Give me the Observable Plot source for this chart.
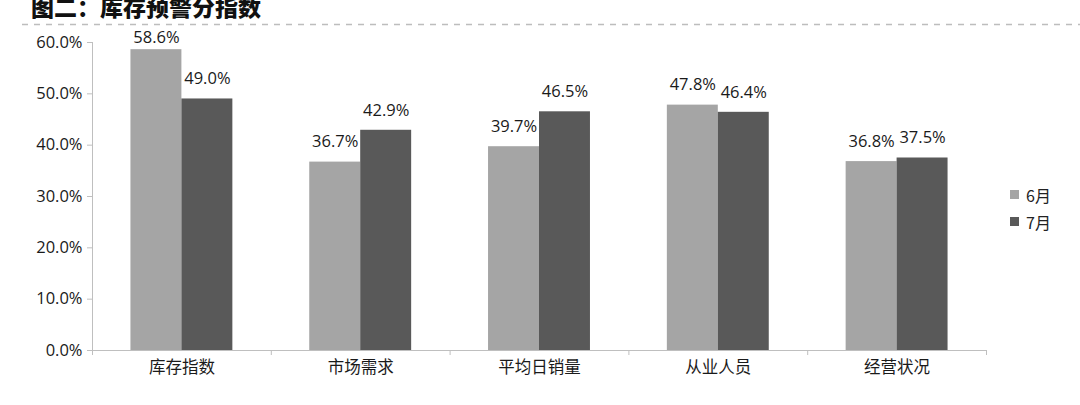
<!DOCTYPE html>
<html><head><meta charset="utf-8">
<script src="https://cdn.jsdelivr.net/npm/d3@7"></script>
<script src="https://cdn.jsdelivr.net/npm/@observablehq/plot@0.6"></script>
<style>
body{margin:0;background:#fff;}
#wrap{position:relative;width:1080px;height:405px;overflow:hidden;font-family:"Open Sans","Noto Sans CJK SC",sans-serif;}
#title{position:absolute;left:31px;top:-11px;font-family:"Noto Sans CJK SC",sans-serif;font-weight:900;font-size:23px;color:#111;white-space:nowrap;}
#dash{position:absolute;left:0;top:0;}
#legend{position:absolute;left:1010px;top:181px;font-size:16px;color:#222;font-family:"Noto Sans CJK SC",sans-serif;}
#legend div{display:flex;align-items:center;height:27px;}
#legend span.sw{display:inline-block;width:9px;height:9px;margin-right:7px;}
#chart{position:absolute;left:0;top:0;}
</style></head>
<body>
<div id="wrap">
  <div id="chart"></div>
  <div id="title">图二：库存预警分指数</div>
  <svg id="dash" width="1080" height="30"><line x1="22" x2="1080" y1="24.5" y2="24.5" stroke="#bdbdbd" stroke-width="1.5" stroke-dasharray="6,6"/></svg>
  <div id="legend"></div>
</div>
<script>
const categories = ["库存指数","市场需求","平均日销量","从业人员","经营状况"];
const months = ["6月","7月"];
const june = [0.586, 0.367, 0.397, 0.478, 0.368];
const july = [0.490, 0.429, 0.465, 0.464, 0.375];
const yTicks = [0, 0.1, 0.2, 0.3, 0.4, 0.5, 0.6];
const colors = ["#a5a5a5", "#595959"];

const data = [];
categories.forEach((c, i) => {
  data.push({cat: c, i, month: months[0], value: june[i]});
  data.push({cat: c, i, month: months[1], value: july[i]});
});

// layout within each category slot (fraction of slot)
const groupPad = 0.215, barW = 0.285;
const x1 = d => d.i + groupPad + months.indexOf(d.month) * barW;
const x2 = d => x1(d) + barW;
const xm = d => x1(d) + barW / 2;

const chart = Plot.plot({
  width: 1080, height: 405,
  marginTop: 42, marginBottom: 55, marginLeft: 92, marginRight: 94,
  style: {fontFamily: "'Open Sans','Noto Sans CJK SC',sans-serif", fontSize: "16.5px", color: "#1a1a1a", background: "transparent"},
  x: {type: "linear", domain: [0, categories.length]},
  y: {domain: [0, 0.6]},
  color: {domain: months, range: colors},
  marks: [
    Plot.rectY(data, {x1, x2, y1: 0, y2: "value", fill: "month"}),
    Plot.ruleY([0], {stroke: "#bfbfbf", strokeWidth: 1}),
    Plot.ruleX([0], {stroke: "#bfbfbf", strokeWidth: 1}),
    Plot.axisY({ticks: yTicks, tickFormat: d3.format(".1%"), tickSize: 5, tickPadding: 5, stroke: "#bfbfbf", fill: "#1a1a1a", label: null, fontSize: 16.5}),
    Plot.axisX({ticks: d3.range(categories.length + 1), tickFormat: () => "", tickSize: 5, stroke: "#bfbfbf", label: null}),
    Plot.axisX({ticks: d3.range(categories.length).map(i => i + 0.5), tickFormat: t => categories[Math.floor(t)], tickSize: 0, tickPadding: 11, fill: "#1a1a1a", label: null, fontSize: 16.5, fontFamily: "'Noto Sans CJK SC',sans-serif"}),
    Plot.text(data, {x: xm, y: d => Math.min(d.value, 0.571), dy: -20, text: d => d3.format(".1%")(d.value), fill: "#1a1a1a", fontSize: 16.5})
  ]
});
document.getElementById("chart").appendChild(chart);

const leg = document.getElementById("legend");
months.forEach((m, k) => {
  const row = document.createElement("div");
  row.innerHTML = `<span class="sw" style="background:${colors[k]}"></span>${m}`;
  leg.appendChild(row);
});
</script>
</body></html>
